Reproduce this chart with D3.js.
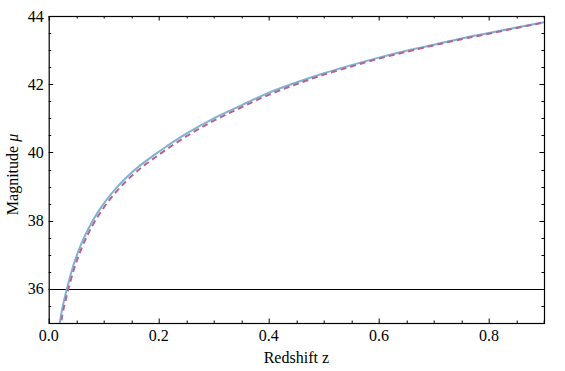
<!DOCTYPE html>
<html>
<head>
<meta charset="utf-8">
<script src="https://cdn.jsdelivr.net/npm/d3@7"></script>
<style>
  body { margin: 0; background: #fff; }
  text { font-family: "Liberation Serif", "DejaVu Serif", serif; }
</style>
</head>
<body>
<script>
var width = 565;
var height = 371;
var margin = {top: 16, right: 21, bottom: 48, left: 48.7};
var w = width - margin.left - margin.right;
var h = height - margin.top - margin.bottom;

// redshift values
var redshift = [0.020, 0.025, 0.033, 0.045, 0.06, 0.08, 0.10, 0.125, 0.15, 0.20, 0.25, 0.30,
                0.35, 0.40, 0.45, 0.50, 0.55, 0.60, 0.65, 0.70, 0.75, 0.80, 0.85, 0.90];
// solid (light blue) curve
var muSolid = [35.0, 35.45, 36.0, 36.7, 37.35, 38.0, 38.5, 39.0, 39.4, 40.02, 40.55, 41.0,
               41.38, 41.75, 42.05, 42.32, 42.56, 42.78, 42.98, 43.16, 43.34, 43.5, 43.66, 43.82];
// dashed (purple) curve
var muDashed = [34.78, 35.25, 35.82, 36.53, 37.2, 37.87, 38.38, 38.89, 39.3, 39.93, 40.47, 40.93,
                41.32, 41.69, 42.0, 42.28, 42.52, 42.75, 42.95, 43.14, 43.32, 43.48, 43.65, 43.81];

var xTicks = [0, 0.2, 0.4, 0.6, 0.8];
var yTicks = [36, 38, 40, 42, 44];
var hLine = 36;

var svg = d3.select("body").append("svg")
    .attr("width", width)
    .attr("height", height)
  .append("g")
    .attr("transform", "translate(" + margin.left + "," + margin.top + ")");

var x = d3.scaleLinear().domain([0, 0.9]).range([0, w]);
var y = d3.scaleLinear().domain([35, 44]).range([h, 0]);

svg.append("clipPath").attr("id", "clip")
  .append("rect").attr("width", w).attr("height", h);

// minor ticks every 0.05 / 0.5
var xMinor = d3.range(0, 0.9001, 0.05).filter(function(d) { return Math.abs(d / 0.2 - Math.round(d / 0.2)) > 1e-6; });
var yMinor = d3.range(35, 44.001, 0.5).filter(function(d) { return Math.abs(d / 2 - Math.round(d / 2)) > 1e-6; });

var ticks = svg.append("g").attr("stroke", "#000").attr("stroke-width", 1);
function tickX(v, len) {
  var px = Math.round(x(v)) + 0.5;
  ticks.append("line").attr("x1", px).attr("x2", px).attr("y1", h).attr("y2", h - len);
  ticks.append("line").attr("x1", px).attr("x2", px).attr("y1", 0).attr("y2", len);
}
function tickY(v, len) {
  var py = Math.round(y(v)) + 0.5;
  ticks.append("line").attr("y1", py).attr("y2", py).attr("x1", 0).attr("x2", len);
  ticks.append("line").attr("y1", py).attr("y2", py).attr("x1", w).attr("x2", w - len);
}
xTicks.forEach(function(d) { tickX(d, 4.5); });
xMinor.forEach(function(d) { tickX(d, 2.5); });
yTicks.forEach(function(d) { tickY(d, 4.5); });
yMinor.forEach(function(d) { tickY(d, 2.5); });

// tick labels
svg.selectAll(".xl").data(xTicks).enter().append("text")
    .attr("x", function(d) { return x(d); })
    .attr("y", h + 18)
    .attr("text-anchor", "middle")
    .style("font-size", "16px")
    .text(function(d) { return d3.format(".1f")(d); });

svg.selectAll(".yl").data(yTicks).enter().append("text")
    .attr("x", -5)
    .attr("y", function(d) { return y(d) + 5.5; })
    .attr("text-anchor", "end")
    .style("font-size", "16px")
    .text(function(d) { return d; });

// horizontal axis line at mu = 36
svg.append("line")
    .attr("x1", 0).attr("x2", w)
    .attr("y1", Math.round(y(hLine)) + 0.5).attr("y2", Math.round(y(hLine)) + 0.5)
    .attr("stroke", "#000").attr("stroke-width", 1);

var line = d3.line().curve(d3.curveMonotoneX);

var plot = svg.append("g").attr("clip-path", "url(#clip)");

plot.append("path")
    .attr("d", line(redshift.map(function(d, i) { return [x(d), y(muSolid[i])]; })))
    .attr("fill", "none")
    .attr("stroke", "#7fb3d3")
    .attr("stroke-width", 2);

plot.append("path")
    .attr("d", line(redshift.map(function(d, i) { return [x(d), y(muDashed[i])]; })))
    .attr("fill", "none")
    .attr("stroke", "#b8638f")
    .attr("stroke-width", 2)
    .attr("stroke-dasharray", "6,4");

// frame
svg.append("rect")
    .attr("x", 0.5).attr("y", 0.5)
    .attr("width", w).attr("height", h)
    .attr("fill", "none").attr("stroke", "#000").attr("stroke-width", 1.2);

// axis titles
svg.append("text")
    .attr("x", w / 2)
    .attr("y", h + 40)
    .attr("text-anchor", "middle")
    .style("font-size", "16px")
    .text("Redshift z");

var yt = svg.append("text")
    .attr("transform", "translate(-31," + (h / 2 + 5) + ") rotate(-90)")
    .attr("text-anchor", "middle")
    .style("font-size", "16px");
yt.append("tspan").text("Magnitude ");
yt.append("tspan").style("font-style", "italic").text("\u03bc");
</script>
</body>
</html>
